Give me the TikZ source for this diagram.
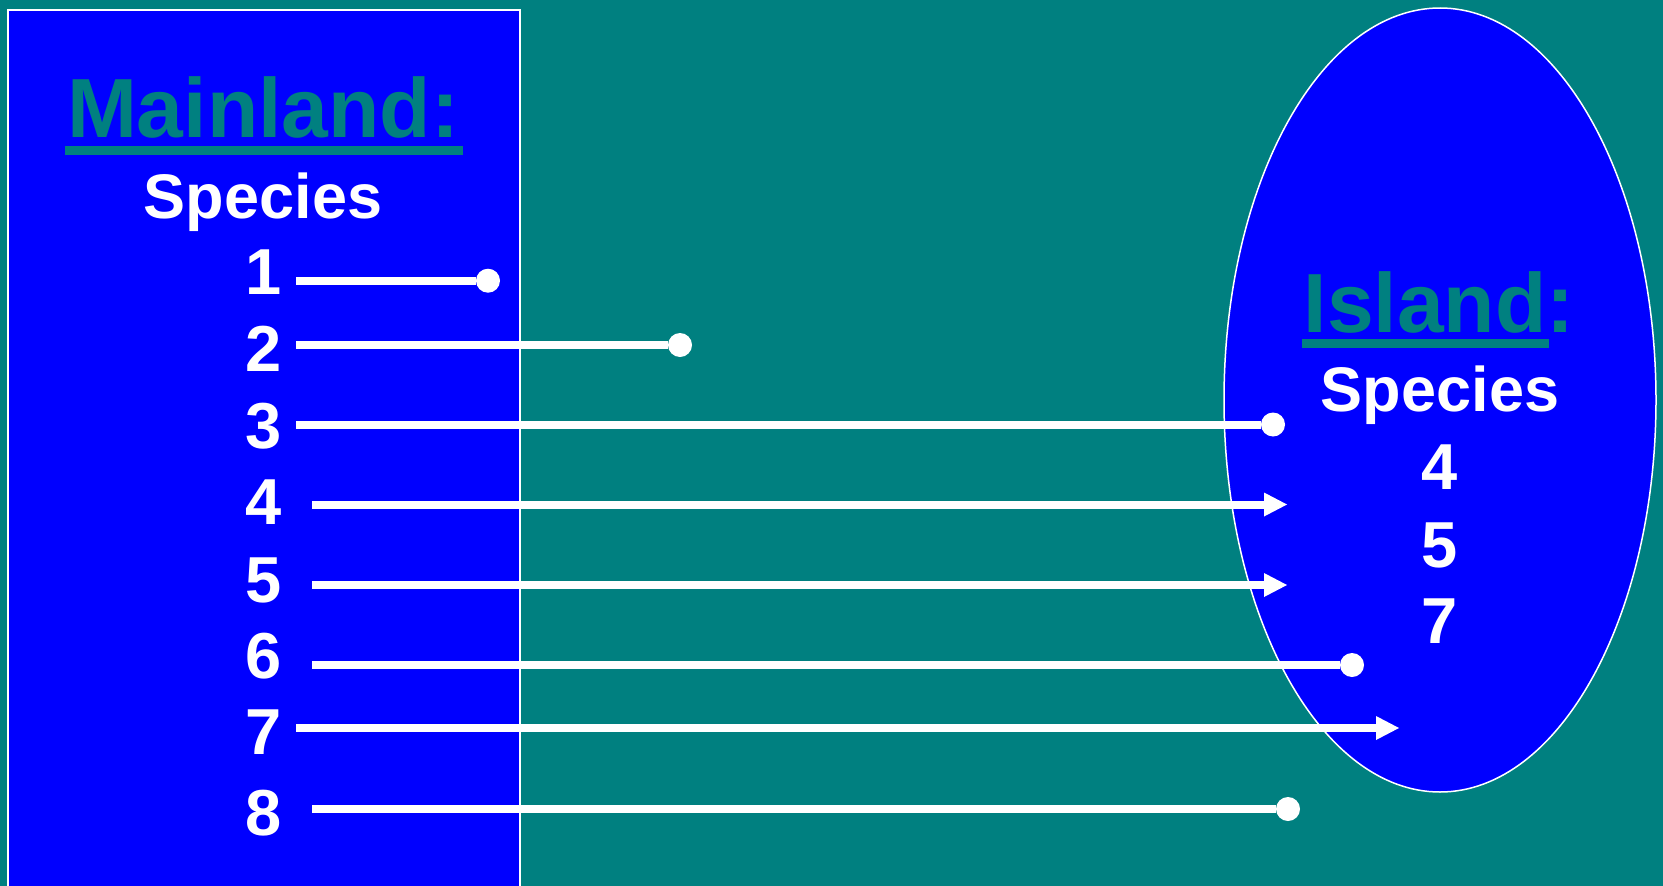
\documentclass[tikz,border=0pt]{standalone}
\usepackage{fontspec}
\setmainfont{Liberation Sans}
\usetikzlibrary{arrows.meta,calc}
\definecolor{sea}{HTML}{008080}
\definecolor{land}{HTML}{0000FF}
\tikzset{
  title/.style={text=sea, font=\bfseries\fontsize{84}{90}\selectfont, inner sep=0pt, anchor=base},
  head/.style={text=white, font=\bfseries\fontsize{63}{70}\selectfont, inner sep=0pt, anchor=base},
  num/.style={text=white, font=\bfseries\fontsize{65}{70}\selectfont, inner sep=0pt, anchor=base},
  uline/.style={draw=sea, line width=9pt},
  link/.style={draw=white, line width=8pt},
  dotlink/.style={link, -{Circle[length=24pt, line width=0pt]}},
  arrlink/.style={link, -{Triangle[length=23pt, width=24pt, line width=0pt]}},
}
\begin{document}
\begin{tikzpicture}[x=1pt,y=-1pt]
  % sea background
  \fill[sea] (0,0) rectangle (1663,886);
  \useasboundingbox (0,0) rectangle (1663,886);

  % mainland block and island
  \draw[white, line width=2pt, fill=land] (8,10) rectangle (520,900);
  \draw[white, line width=1.5pt, fill=land] (1440,400) ellipse [x radius=216, y radius=392];

  % mainland labels
  \node[title] (mainT) at (263,137) {Mainland:};
  \draw[uline] ($(mainT.base west)+(-2,13.5)$) -- ($(mainT.base east)+(4,13.5)$);
  \node[head] (mainS) at (263,218) {Species};
  \foreach \i/\y in {1/294,2/371,3/448,4/524,5/602,6/678,7/754,8/835}
    \node[num] (m\i) at (264,\y) {\i};

  % island labels
  \node[title] (islT) at (1439,332) {Island:};
  \draw[uline] ($(islT.base west)+(-1,11.5)$) -- ++(247,0);
  \node[head] (islS) at (1440,411) {Species};
  \node[num] (i4) at (1440,489) {4};
  \node[num] (i5) at (1440,567) {5};
  \node[num] (i7) at (1440,643) {7};

  % start and end points of the dispersal lines
  \coordinate (a1) at (296,280.7);  \coordinate (b1) at (500,280.7);
  \coordinate (a2) at (296,345);    \coordinate (b2) at (692,345);
  \coordinate (a3) at (296,424.5);  \coordinate (b3) at (1285,424.5);
  \coordinate (a4) at (312,504.5);  \coordinate (b4) at (1287,504.5);
  \coordinate (a5) at (312,585);    \coordinate (b5) at (1287,585);
  \coordinate (a6) at (312,665);    \coordinate (b6) at (1364,665);
  \coordinate (a7) at (296,728);    \coordinate (b7) at (1399,728);
  \coordinate (a8) at (312,809);    \coordinate (b8) at (1300,809);

  % species that fail to reach the island
  \foreach \i in {1,2,3,6,8}
    \draw[dotlink] (a\i) -- (b\i);
  % species that colonise the island
  \foreach \i in {4,5,7}
    \draw[arrlink] (a\i) -- (b\i);
\end{tikzpicture}
\end{document}
